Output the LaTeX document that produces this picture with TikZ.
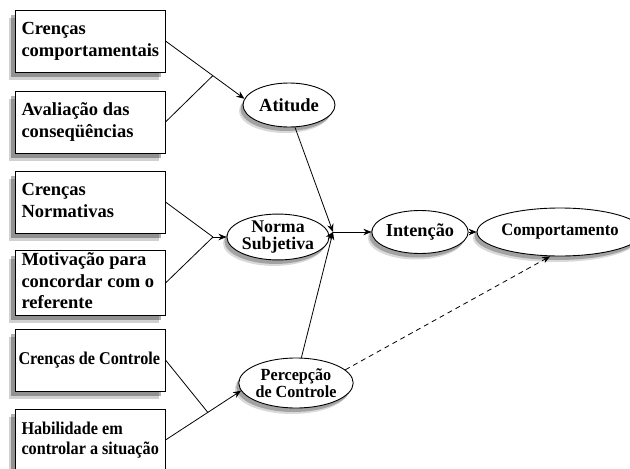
\documentclass[tikz,border=0pt]{standalone}
\usepackage{fontspec}
\setmainfont{Liberation Serif}
\usetikzlibrary{shapes.geometric,shadows,arrows.meta,calc}
\newcommand{\boxtext}[2][137pt]{\makebox[#1][l]{\begin{tabular}{@{}l@{}}#2\end{tabular}}}
\begin{document}
\begin{tikzpicture}[x=1pt,y=-1pt,
  boxnode/.style={draw,line width=1pt,fill=white,minimum width=150pt,minimum height=62pt,
     align=left,inner xsep=6.5pt,inner ysep=0pt,
     font=\bfseries\fontsize{18.5}{21.5}\selectfont,
     drop shadow={shadow xshift=-6pt,shadow yshift=-8pt,fill=black,opacity=0.18},
     drop shadow={shadow xshift=-4pt,shadow yshift=-5pt,fill=black,opacity=0.3}},
  smallbox/.style={font=\bfseries\fontsize{18}{20}\selectfont\addfontfeature{FakeStretch=0.9}},
  ellnode/.style={ellipse,draw,line width=0.9pt,fill=white,inner sep=0pt,align=center,
     font=\bfseries\fontsize{18.3}{17}\selectfont,
     drop shadow={shadow xshift=-4pt,shadow yshift=-6pt,fill=black,opacity=0.15},
     drop shadow={shadow xshift=-2.5pt,shadow yshift=-4pt,fill=black,opacity=0.25}},
  arr/.style={-{Stealth[length=8pt,width=6.5pt]},line width=0.8pt},
  ln/.style={line width=0.8pt}]
\clip (0,0) rectangle (630,469);
\useasboundingbox (0,0) rectangle (630,469);
\fill[white] (0,0) rectangle (630,469);

\node[boxnode] (b1) at (90,41) {\boxtext{Crenças\\comportamentais}};
\node[boxnode] (b2) at (90,122) {\boxtext{Avaliação das\\conseqüências}};
\node[boxnode] (b3) at (90,202) {\boxtext{Crenças\\Normativas}};
\node[boxnode] (b4) at (90,283) {\boxtext{Motivação para\\concordar com o\\referente}};
\node[boxnode,smallbox,inner xsep=3.5pt] (b5) at (90,360) {\boxtext[143pt]{Crenças de Controle}};
\node[boxnode,smallbox] (b6) at (90,440) {\boxtext{Habilidade em\\controlar a situação}};

\node[ellnode,minimum width=92pt,minimum height=44pt,font=\bfseries\fontsize{18.5}{17}\selectfont] (att) at (289,105) {Atitude};
\node[ellnode,minimum width=93pt,minimum height=44pt,font=\bfseries\fontsize{17.8}{17}\selectfont] (ns) at (278,237) {Norma\\Subjetiva};
\node[ellnode,minimum width=92pt,minimum height=50pt,font=\bfseries\fontsize{17}{16.5}\selectfont\addfontfeature{FakeStretch=0.95}] (pc) at (296,383) {Percepção\\de Controle};
\node[ellnode,minimum width=94pt,minimum height=43pt] (int) at (420,232) {Intenção};
\node[ellnode,minimum width=135pt,minimum height=48pt,font=\bfseries\fontsize{17.5}{17}\selectfont\addfontfeature{FakeStretch=0.95}] (comp) at (560,232) {Comportamento};

\coordinate (m) at (333,232);
\coordinate (j1) at ($(b1.east)!0.6!(att.172)$);
\coordinate (j2) at (213,237);
\coordinate (j3) at ($(b6.east)!0.56!(pc.188)$);

\draw[arr] (b1.east) -- (att.172);
\draw[ln] (b2.east) -- (j1);
\draw[ln] (b3.east) -- (j2);
\draw[ln] (b4.east) -- (j2);
\draw[arr] (j2) -- (ns.west);
\draw[ln] (b5.east) -- (j3);
\draw[arr] (b6.east) -- (pc.188);
\draw[arr] (att.-75) -- (m);
\draw[arr] (ns.east) -- (m);
\draw[arr] (pc.78) -- (m);
\draw[arr] (m) -- (int.west);
\draw[arr] (int.east) -- (comp.west);
\draw[arr,dash pattern=on 5pt off 4pt] (pc.15) -- (comp.-112);
\end{tikzpicture}
\end{document}
